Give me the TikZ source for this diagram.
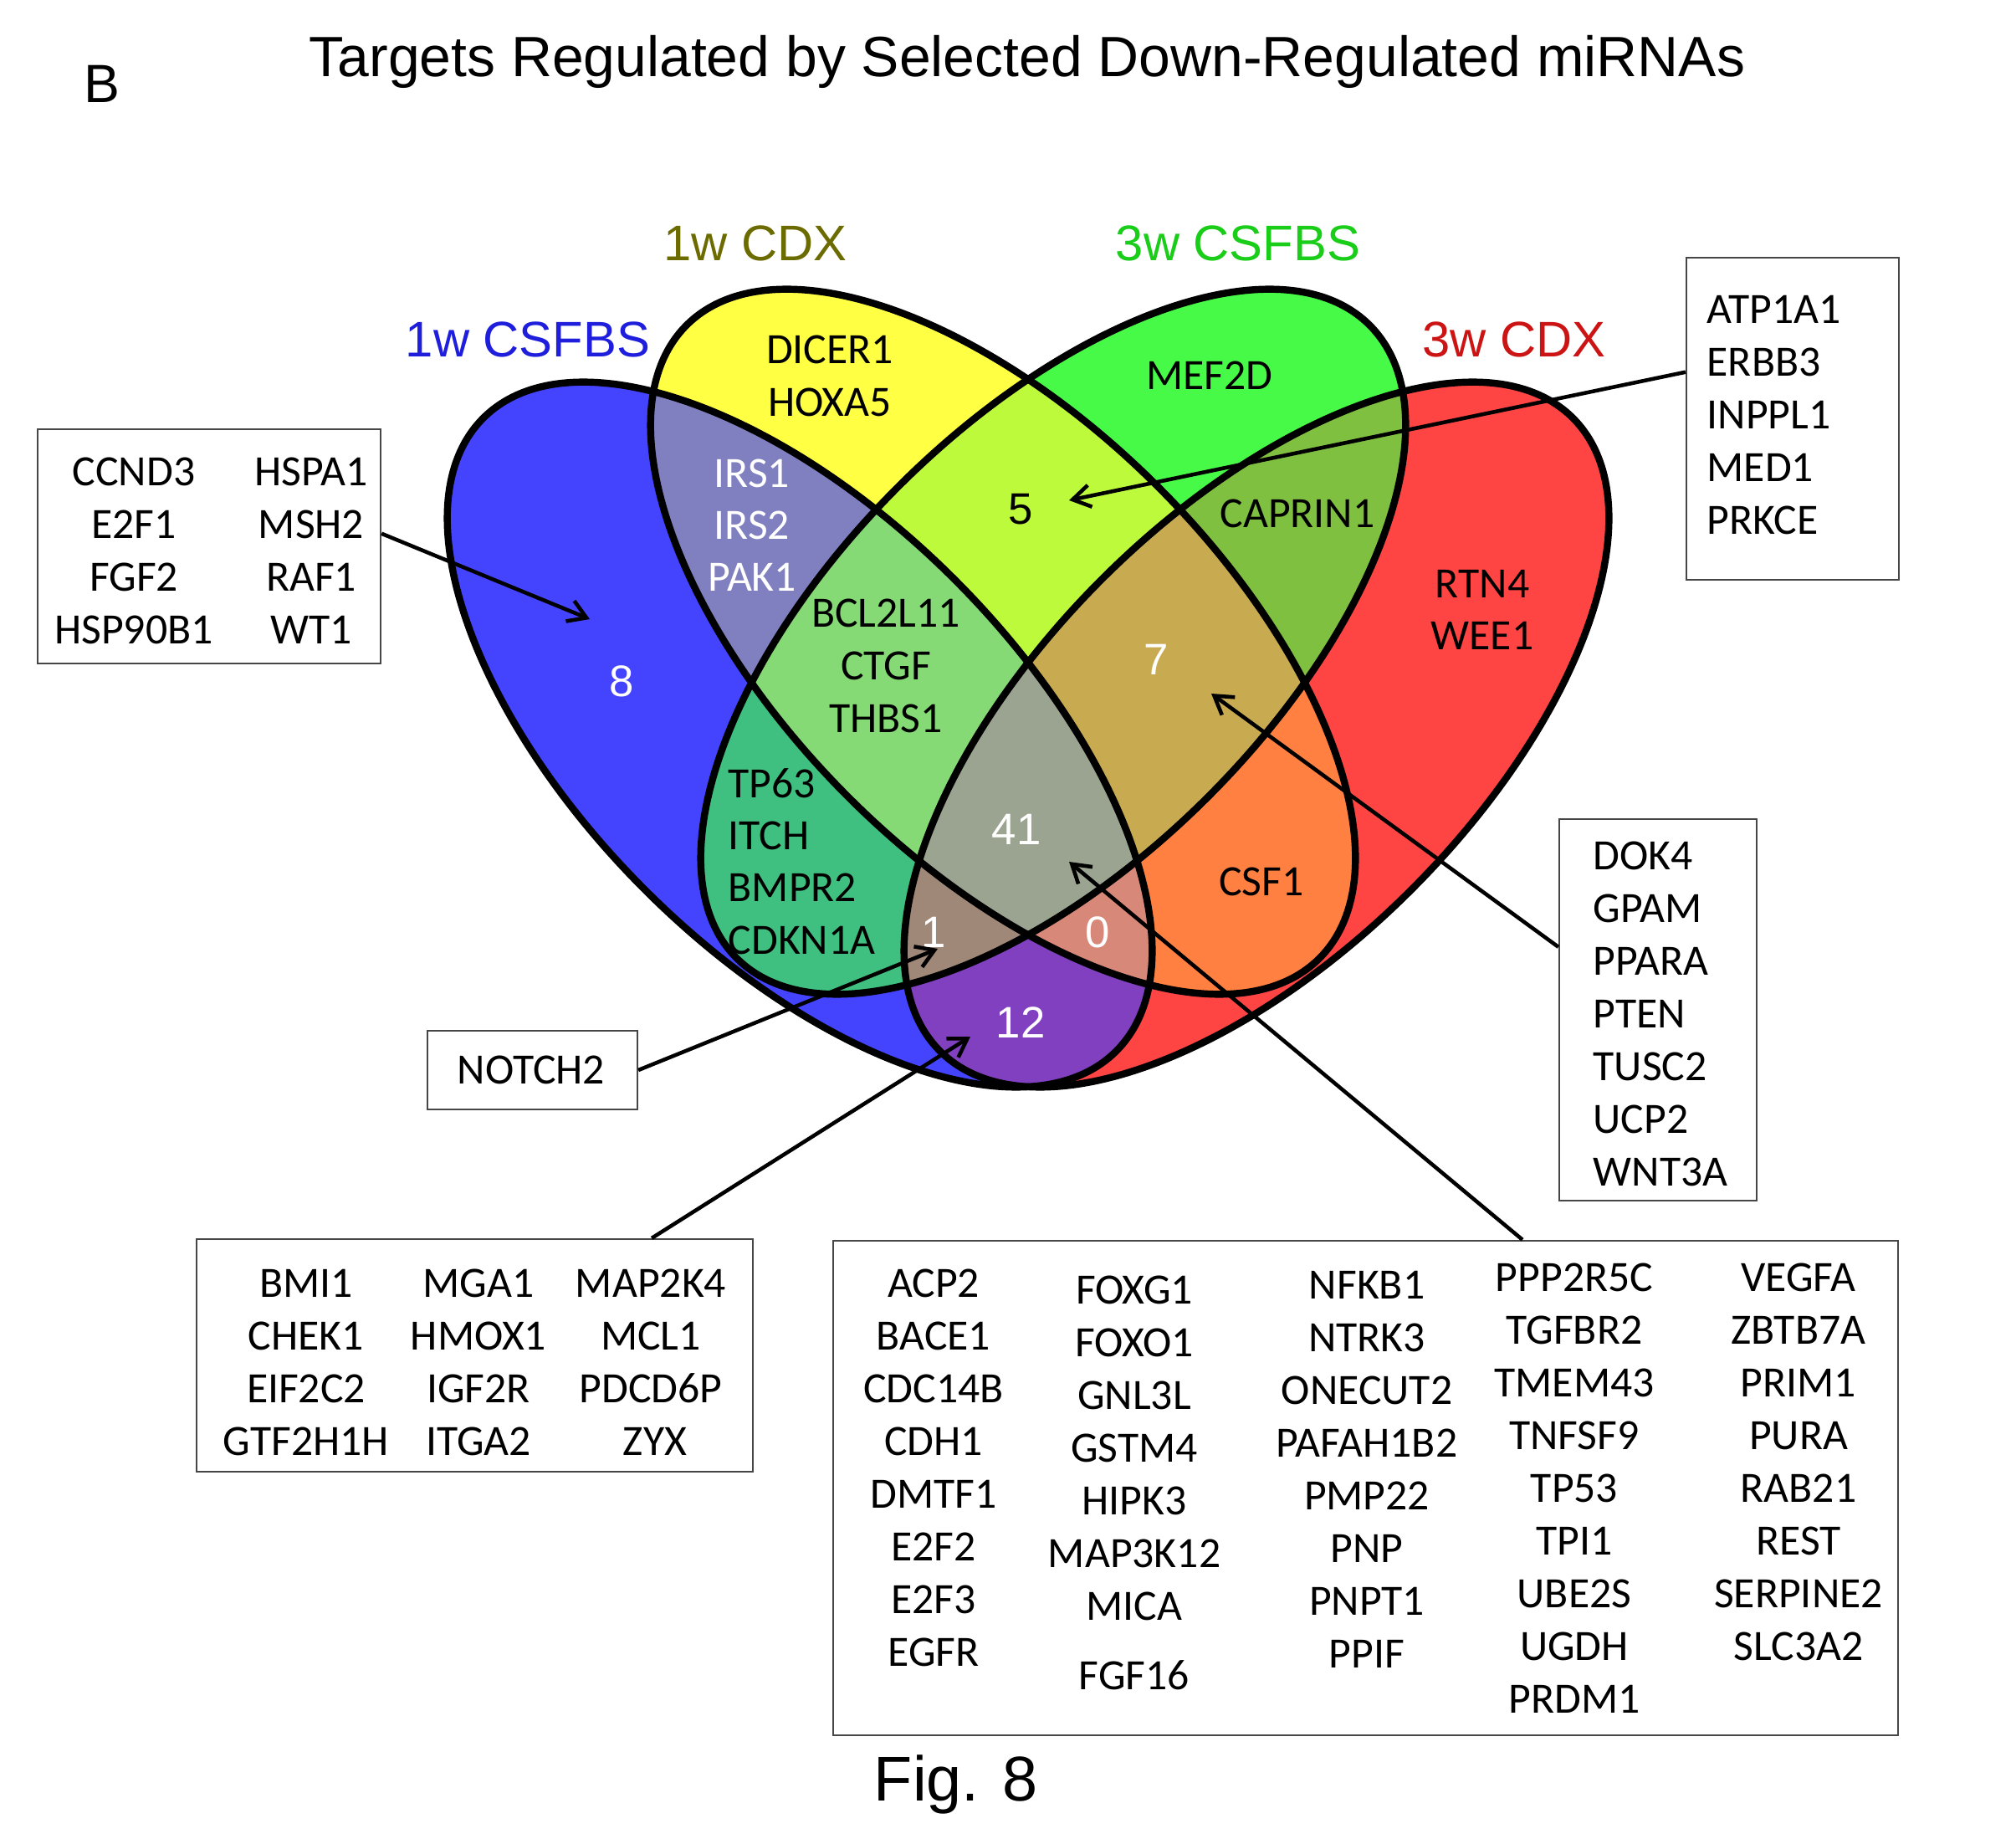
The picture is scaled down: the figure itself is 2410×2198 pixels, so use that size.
\documentclass[tikz,border=0pt]{standalone}
\usepackage{fontspec}
\setmainfont{Liberation Sans}
\newfontfamily\calibri{Carlito}
\usetikzlibrary{arrows.meta,calc}

\definecolor{cA}{RGB}{68,68,255}
\definecolor{cB}{RGB}{255,255,68}
\definecolor{cC}{RGB}{72,250,72}
\definecolor{cD}{RGB}{255,68,68}
\definecolor{cAB}{RGB}{128,128,192}
\definecolor{cAC}{RGB}{64,192,128}
\definecolor{cAD}{RGB}{128,64,192}
\definecolor{cBC}{RGB}{190,250,60}
\definecolor{cBD}{RGB}{255,128,64}
\definecolor{cCD}{RGB}{128,192,64}
\definecolor{cABC}{RGB}{134,218,118}
\definecolor{cABD}{RGB}{216,136,120}
\definecolor{cACD}{RGB}{160,136,120}
\definecolor{cBCD}{RGB}{200,170,80}
\definecolor{cABCD}{RGB}{155,164,144}
\definecolor{lblA}{RGB}{30,30,220}
\definecolor{lblB}{RGB}{107,107,0}
\definecolor{lblC}{RGB}{25,205,25}
\definecolor{lblD}{RGB}{204,20,20}
\definecolor{boxgray}{RGB}{70,70,70}

\newcommand\genefont{\calibri\fontsize{14.7}{18}\selectfont}
\newcommand\numfont{\fontsize{15}{18}\selectfont}
\newcommand\setfont{\fontsize{17}{20}\selectfont}

\newcommand\EllA[1]{\path[#1,rotate around={-45:(956,878)}] (956,878) ellipse [x radius=535, y radius=262];}
\newcommand\EllB[1]{\path[#1,rotate around={-45:(1199,767)}] (1199,767) ellipse [x radius=535, y radius=262];}
\newcommand\EllC[1]{\path[#1,rotate around={45:(1259,767)}] (1259,767) ellipse [x radius=535, y radius=262];}
\newcommand\EllD[1]{\path[#1,rotate around={45:(1502,878)}] (1502,878) ellipse [x radius=535, y radius=262];}

\tikzset{
  gene/.style={font=\genefont, inner sep=0pt, anchor=base},
  genel/.style={font=\genefont, inner sep=0pt, anchor=base west},
  num/.style={font=\numfont, inner sep=0pt, anchor=base},
  setlbl/.style={font=\setfont, inner sep=0pt, anchor=base},
  listbox/.style={draw=boxgray, line width=0.6pt, inner sep=0pt, rectangle, fill=white},
  conn/.style={line width=1.3pt, -{Straight Barb[length=6pt,width=7.5pt]}},
  outline/.style={draw=black, line width=2.4pt},
}

\begin{document}
\begin{tikzpicture}[x=0.01cm, y=-0.01cm]
\useasboundingbox (0,0) rectangle (2410,2198);
\fill[white] (0,0) rectangle (2410,2198);

% titles
\node[anchor=base, inner sep=0pt, font=\fontsize{19.3}{23}\selectfont] (title) at (1228,92) {Targets Regulated by Selected Down-Regulated miRNAs};
\node[anchor=base west, inner sep=0pt, font=\fontsize{18.3}{22}\selectfont] (panel) at (100,123) {B};
\node[anchor=base, inner sep=0pt, font=\fontsize{21.5}{26}\selectfont] (fig) at (1143,2152) {Fig. 8};

% single regions
\EllA{fill=cA}
\EllB{fill=cB}
\EllC{fill=cC}
\EllD{fill=cD}
% pairs
\begin{scope}\EllA{clip}\EllB{fill=cAB}\end{scope}
\begin{scope}\EllA{clip}\EllC{fill=cAC}\end{scope}
\begin{scope}\EllA{clip}\EllD{fill=cAD}\end{scope}
\begin{scope}\EllB{clip}\EllC{fill=cBC}\end{scope}
\begin{scope}\EllB{clip}\EllD{fill=cBD}\end{scope}
\begin{scope}\EllC{clip}\EllD{fill=cCD}\end{scope}
% triples
\begin{scope}\EllA{clip}\EllB{clip}\EllC{fill=cABC}\end{scope}
\begin{scope}\EllA{clip}\EllB{clip}\EllD{fill=cABD}\end{scope}
\begin{scope}\EllA{clip}\EllC{clip}\EllD{fill=cACD}\end{scope}
\begin{scope}\EllB{clip}\EllC{clip}\EllD{fill=cBCD}\end{scope}
% all four
\begin{scope}\EllA{clip}\EllB{clip}\EllC{clip}\EllD{fill=cABCD}\end{scope}
% outlines
\EllA{outline}
\EllB{outline}
\EllC{outline}
\EllD{outline}

% set labels
\node[setlbl, text=lblA] (lA) at (631,427) {1w CSFBS};
\node[setlbl, text=lblB] (lB) at (903,312) {1w CDX};
\node[setlbl, text=lblC] (lC) at (1480,312) {3w CSFBS};
\node[setlbl, text=lblD] (lD) at (1810,427) {3w CDX};

% region contents
\node[gene] (rDICER1) at (992,435) {DICER1};
\node[gene] (rHOXA5) at (992,498) {HOXA5};
\node[gene] (rMEF2D) at (1446,466) {MEF2D};
\node[gene, text=white] (rIRS1) at (899,583) {IRS1};
\node[gene, text=white] (rIRS2) at (899,645) {IRS2};
\node[gene, text=white] (rPAK1) at (899,707) {PAK1};
\node[num] (n5) at (1220,627) {5};
\node[gene] (rCAPRIN1) at (1551,631) {CAPRIN1};
\node[num, text=white] (n8) at (743,832) {8};
\node[gene] (rBCL2L11) at (1059,749) {BCL2L11};
\node[gene] (rCTGF) at (1059,812) {CTGF};
\node[gene] (rTHBS1) at (1059,875) {THBS1};
\node[num, text=white] (n7) at (1382,806) {7};
\node[gene] (rRTN4) at (1772,715) {RTN4};
\node[gene] (rWEE1) at (1772,777) {WEE1};
\node[genel] (rTP63) at (870,953) {TP63};
\node[genel] (rITCH) at (870,1015) {ITCH};
\node[genel] (rBMPR2) at (870,1077) {BMPR2};
\node[genel] (rCDKN1A) at (870,1140) {CDKN1A};
\node[num, text=white] (n41) at (1215,1009) {41};
\node[gene] (rCSF1) at (1508,1070) {CSF1};
\node[num, text=white] (n1) at (1116,1132) {1};
\node[num, text=white] (n0) at (1312,1132) {0};
\node[num, text=white] (n12) at (1220,1240) {12};

% boxes
\node[listbox, minimum width=4.10cm, minimum height=2.80cm] (boxL) at (250,653) {};
\node[listbox, minimum width=2.54cm, minimum height=3.85cm] (boxR) at (2143,500.5) {};
\node[listbox, minimum width=2.36cm, minimum height=4.56cm] (boxD) at (1982,1207) {};
\node[listbox, minimum width=2.51cm, minimum height=0.94cm] (boxN) at (636.5,1279) {};
\node[listbox, minimum width=6.65cm, minimum height=2.78cm] (boxM) at (567.5,1620) {};
\node[listbox, minimum width=12.73cm, minimum height=5.91cm] (boxB) at (1632.5,1778.5) {};

% left box
\node[gene] (gCCND3) at (160,581) {CCND3};
\node[gene] (gE2F1) at (160,644) {E2F1};
\node[gene] (gFGF2) at (160,707) {FGF2};
\node[gene] (gHSP90B1) at (160,770) {HSP90B1};
\node[gene] (gHSPA1) at (372,581) {HSPA1};
\node[gene] (gMSH2) at (372,644) {MSH2};
\node[gene] (gRAF1) at (372,707) {RAF1};
\node[gene] (gWT1) at (372,770) {WT1};

% ATP1A1 box
\node[genel] (gATP1A1) at (2040,387) {ATP1A1};
\node[genel] (gERBB3) at (2040,450) {ERBB3};
\node[genel] (gINPPL1) at (2040,513) {INPPL1};
\node[genel] (gMED1) at (2040,576) {MED1};
\node[genel] (gPRKCE) at (2040,639) {PRKCE};

% DOK4 box
\node[genel] (gDOK4) at (1904,1039) {DOK4};
\node[genel] (gGPAM) at (1904,1102) {GPAM};
\node[genel] (gPPARA) at (1904,1165) {PPARA};
\node[genel] (gPTEN) at (1904,1228) {PTEN};
\node[genel] (gTUSC2) at (1904,1291) {TUSC2};
\node[genel] (gUCP2) at (1904,1354) {UCP2};
\node[genel] (gWNT3A) at (1904,1417) {WNT3A};

% NOTCH2 box
\node[gene] (gNOTCH2) at (635,1295) {NOTCH2};

% BMI1 box
\node[gene] (gBMI1) at (366,1550) {BMI1};
\node[gene] (gCHEK1) at (366,1613) {CHEK1};
\node[gene] (gEIF2C2) at (366,1676) {EIF2C2};
\node[gene] (gGTF2H1H) at (366,1739) {GTF2H1H};
\node[gene] (gMGA1) at (572,1550) {MGA1};
\node[gene] (gHMOX1) at (572,1613) {HMOX1};
\node[gene] (gIGF2R) at (572,1676) {IGF2R};
\node[gene] (gITGA2) at (572,1739) {ITGA2};
\node[gene] (gMAP2K4) at (778,1550) {MAP2K4};
\node[gene] (gMCL1) at (778,1613) {MCL1};
\node[gene] (gPDCD6P) at (778,1676) {PDCD6P};
\node[gene] (gZYX) at (783,1739) {ZYX};

% big box
\node[gene] (gACP2) at (1116,1550) {ACP2};
\node[gene] (gBACE1) at (1116,1613) {BACE1};
\node[gene] (gCDC14B) at (1116,1676) {CDC14B};
\node[gene] (gCDH1) at (1116,1739) {CDH1};
\node[gene] (gDMTF1) at (1116,1802) {DMTF1};
\node[gene] (gE2F2) at (1116,1865) {E2F2};
\node[gene] (gE2F3) at (1116,1928) {E2F3};
\node[gene] (gEGFR) at (1116,1991) {EGFR};

\node[gene] (gFOXG1) at (1356,1558) {FOXG1};
\node[gene] (gFOXO1) at (1356,1621) {FOXO1};
\node[gene] (gGNL3L) at (1356,1684) {GNL3L};
\node[gene] (gGSTM4) at (1356,1747) {GSTM4};
\node[gene] (gHIPK3) at (1356,1810) {HIPK3};
\node[gene] (gMAP3K12) at (1356,1873) {MAP3K12};
\node[gene] (gMICA) at (1356,1936) {MICA};
\node[gene] (gFGF16) at (1356,2019) {FGF16};

\node[gene] (gNFKB1) at (1634,1552) {NFKB1};
\node[gene] (gNTRK3) at (1634,1615) {NTRK3};
\node[gene] (gONECUT2) at (1634,1678) {ONECUT2};
\node[gene] (gPAFAH1B2) at (1634,1741) {PAFAH1B2};
\node[gene] (gPMP22) at (1634,1804) {PMP22};
\node[gene] (gPNP) at (1634,1867) {PNP};
\node[gene] (gPNPT1) at (1634,1930) {PNPT1};
\node[gene] (gPPIF) at (1634,1993) {PPIF};

\node[gene] (gPPP2R5C) at (1882,1543) {PPP2R5C};
\node[gene] (gTGFBR2) at (1882,1606) {TGFBR2};
\node[gene] (gTMEM43) at (1882,1669) {TMEM43};
\node[gene] (gTNFSF9) at (1882,1732) {TNFSF9};
\node[gene] (gTP53) at (1882,1795) {TP53};
\node[gene] (gTPI1) at (1882,1858) {TPI1};
\node[gene] (gUBE2S) at (1882,1921) {UBE2S};
\node[gene] (gUGDH) at (1882,1984) {UGDH};
\node[gene] (gPRDM1) at (1882,2047) {PRDM1};

\node[gene] (gVEGFA) at (2150,1543) {VEGFA};
\node[gene] (gZBTB7A) at (2150,1606) {ZBTB7A};
\node[gene] (gPRIM1) at (2150,1669) {PRIM1};
\node[gene] (gPURA) at (2150,1732) {PURA};
\node[gene] (gRAB21) at (2150,1795) {RAB21};
\node[gene] (gREST) at (2150,1858) {REST};
\node[gene] (gSERPINE2) at (2150,1921) {SERPINE2};
\node[gene] (gSLC3A2) at (2150,1984) {SLC3A2};

% connectors
\coordinate (tip8) at (705,740);
\coordinate (tip5) at (1278,598);
\coordinate (tip7) at (1448,829);
\coordinate (tip1) at (1121,1134);
\coordinate (tip12) at (1160,1239);
\coordinate (tip41) at (1278,1030);
\draw[conn] ($(boxL.north east)!0.446!(boxL.south east)$) -- (tip8);
\draw[conn] ($(boxR.north west)!0.356!(boxR.south west)$) -- (tip5);
\draw[conn] ($(boxD.north west)!0.336!(boxD.south west)$) -- (tip7);
\draw[conn] (boxN.east) -- (tip1);
\draw[conn] ($(boxM.north west)!0.817!(boxM.north east)$) -- (tip12);
\draw[conn] ($(boxB.north west)!0.647!(boxB.north east)$) -- (tip41);
\end{tikzpicture}
\end{document}
